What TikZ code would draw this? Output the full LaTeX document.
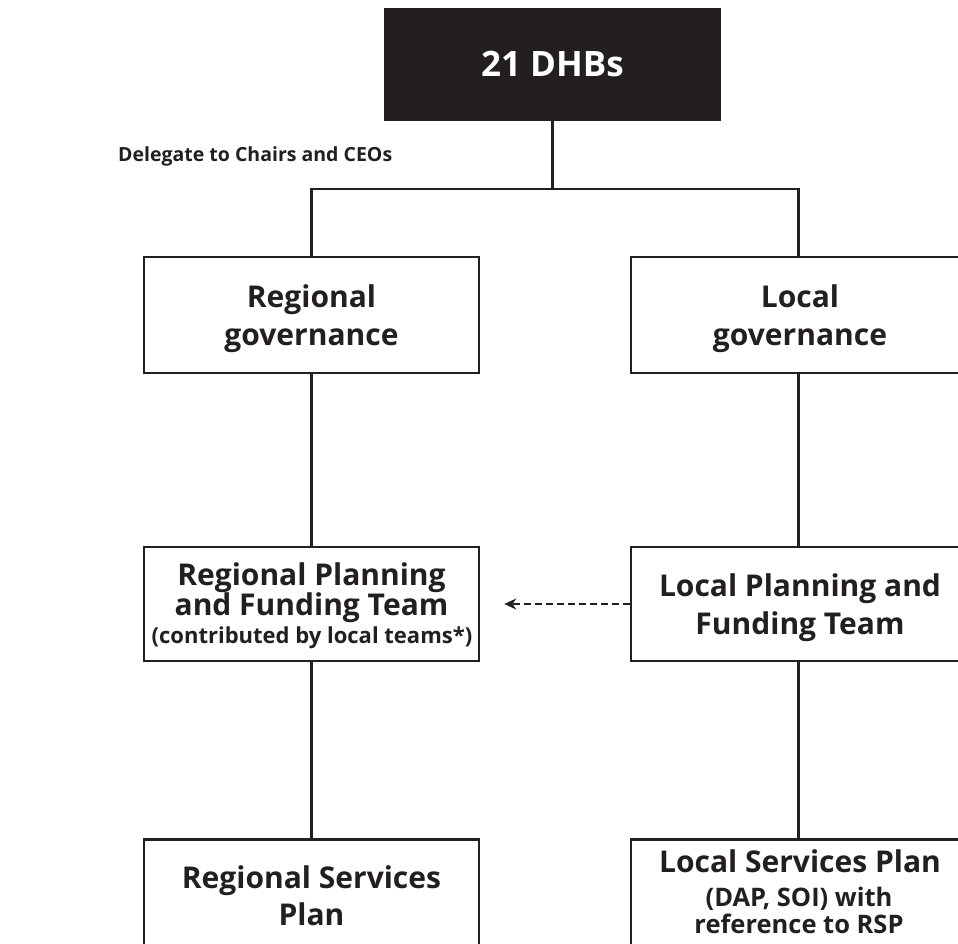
\documentclass[tikz,border=0pt]{standalone}
\usepackage{fontspec}
\setmainfont{Open Sans}
\usetikzlibrary{arrows.meta}
\definecolor{ink}{HTML}{231F20}
\begin{document}
\begin{tikzpicture}[x=1pt,y=-1pt,
  conn/.style={draw=ink, line width=2.6pt},
  box/.style={draw=ink, line width=2.6pt, fill=white, minimum width=335pt, inner sep=0pt},
  ln/.style={text=ink, inner sep=0pt, anchor=base},
  ttl/.style={ln, font=\fontsize{30}{36}\selectfont\bfseries},
  sub/.style={ln, font=\fontsize{#1}{30}\selectfont\bfseries}]
\useasboundingbox (0,0) rectangle (958,944);
\fill[white] (0,0) rectangle (958,944);
% top
\node[fill=ink, minimum width=337pt, minimum height=113pt, inner sep=0pt] (dhb) at (552.5,64.5) {};
\node[ln, text=white, font=\fontsize{35}{40}\selectfont\bfseries] (dhbt) at (552.5,77) {21 DHBs};
\node[ln, anchor=base west, font=\fontsize{19.5}{24}\selectfont\bfseries] (lab) at (118,162) {Delegate to Chairs and CEOs};
% row 1
\node[box, minimum height=116pt] (rg) at (311.5,315) {};
\node[box, minimum height=116pt] (lg) at (798.5,315) {};
\node[ttl] (rg1) at (311.5,307) {Regional};
\node[ttl] (rg2) at (311.5,345) {governance};
\node[ttl] (lg1) at (800,307) {Local};
\node[ttl] (lg2) at (800,345) {governance};
% row 2
\node[box, minimum height=114pt] (rpf) at (311.5,604) {};
\node[box, minimum height=114pt] (lpf) at (798.5,604) {};
\node[ttl] (rpf1) at (311.5,585) {Regional Planning};
\node[ttl] (rpf2) at (311.5,615) {and Funding Team};
\node[sub=22] (rpf3) at (312,643) {(contributed by local teams*)};
\node[ttl] (lpf1) at (800,596) {Local Planning and};
\node[ttl] (lpf2) at (800,634) {Funding Team};
% row 3
\node[box, minimum height=200pt, anchor=north] (rsp) at (311.5,838) {};
\node[box, minimum height=200pt, anchor=north] (lsp) at (798.5,838) {};
\node[ttl] (rsp1) at (311.5,888) {Regional Services};
\node[ttl] (rsp2) at (311.5,925) {Plan};
\node[ttl] (lsp1) at (800,872) {Local Services Plan};
\node[sub=25.5] (lsp2) at (799,906) {(DAP, SOI) with};
\node[sub=25.5] (lsp3) at (799,933) {reference to RSP};
% connectors
\coordinate (j) at (552.5,189);
\draw[conn] (dhb.south) -- (j);
\draw[conn] (rg.north) |- (j) -| (lg.north);
\draw[conn] (rg.south) -- (rpf.north);
\draw[conn] (lg.south) -- (lpf.north);
\draw[conn] (rpf.south) -- (rsp.north);
\draw[conn] (lpf.south) -- (lsp.north);
\draw[draw=ink, line width=2.2pt, dash pattern=on 7pt off 4pt, -{Stealth[length=12pt,width=11pt]}] (lpf.west) -- ([xshift=24pt]rpf.east);
\end{tikzpicture}
\end{document}
